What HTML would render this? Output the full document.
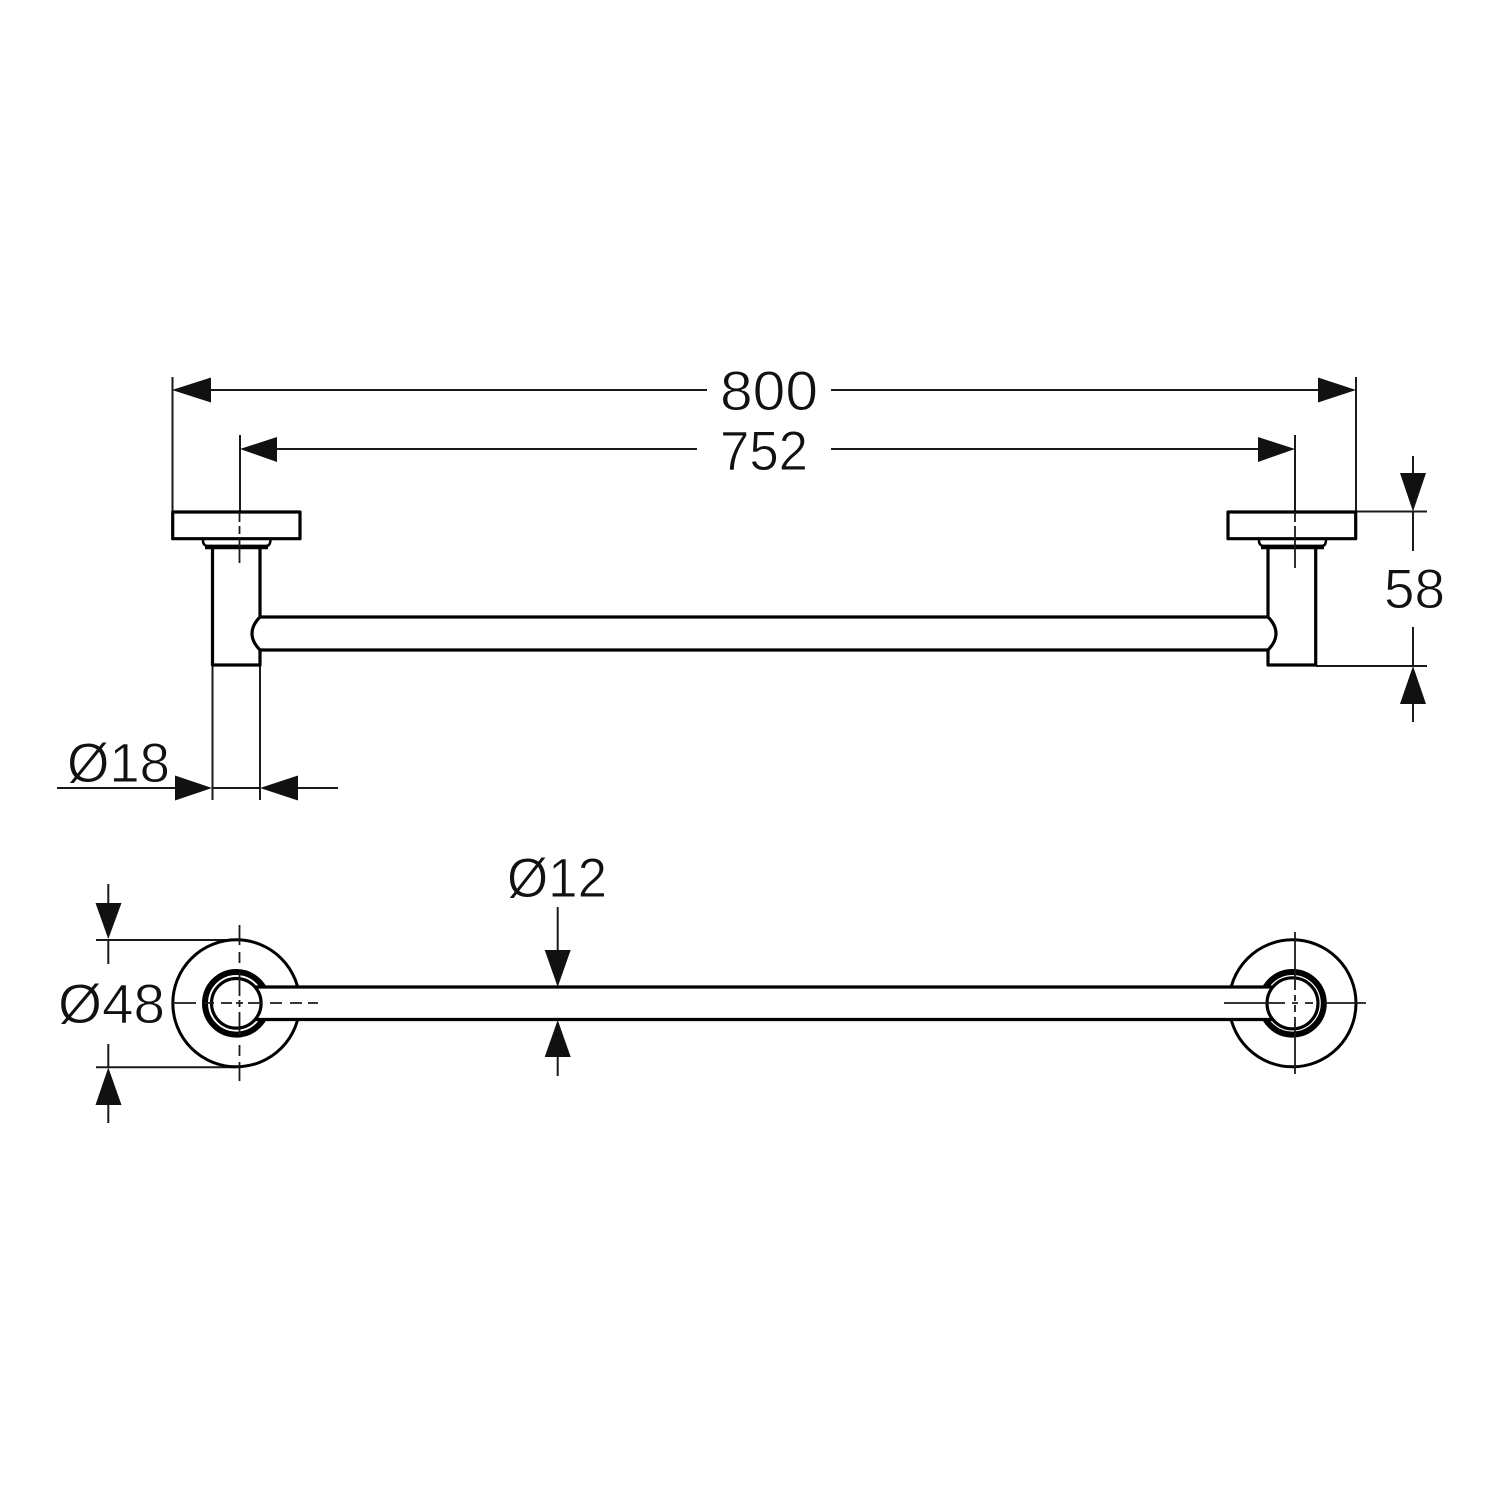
<!DOCTYPE html>
<html>
<head>
<meta charset="utf-8">
<style>
html,body{margin:0;padding:0;background:#fff}
svg{display:block}
text{font-family:"Liberation Sans",sans-serif;font-size:56px;fill:#111;stroke:#fff;stroke-width:.9px}
</style>
</head>
<body>
<svg width="1500" height="1500" viewBox="0 0 1500 1500" xmlns="http://www.w3.org/2000/svg">
<rect width="1500" height="1500" fill="#fff"/>

<!-- thin dimension lines -->
<g stroke="#1a1a1a" stroke-width="2" fill="none">
  <path d="M172.500 377V512M1356 377V512M240 435V512M1295 435V512"/>
  <path d="M211 390H707M831 390H1318"/>
  <path d="M277 449H697M831 449H1258"/>
  <path d="M1356 511.500H1427M1316 666H1427"/>
  <path d="M1413 456V473M1413 511V551M1413 627V666M1413 704V722"/>
  <path d="M212.500 665V800M260 665V800"/>
  <path d="M57 788H175M212 788H260M298 788H338"/>
  <path d="M557.700 907V950M557.700 987V1020M557.700 1057V1076"/>
  <path d="M108.300 884V903M108.300 939V964M108.300 1044V1067M108.300 1105V1123"/>
  <path d="M96 940H236M96 1067.300H236"/>
</g>

<!-- arrowheads -->
<g fill="#111">
  <path d="M172 390L211 377.500V402.500Z"/>
  <path d="M1356 390L1318 377.500V402.500Z"/>
  <path d="M240 449L277 437V462Z"/>
  <path d="M1295 449L1258 437V462Z"/>
  <path d="M1413 511.500L1400 473H1426Z"/>
  <path d="M1413 666L1400 704H1426Z"/>
  <path d="M212 788L175 775.500V800.500Z"/>
  <path d="M260 788L298 775.500V800.500Z"/>
  <path d="M557.700 987L544.700 950H570.700Z"/>
  <path d="M557.700 1020L544.700 1057H570.700Z"/>
  <path d="M108.300 939L95.500 903H121.500Z"/>
  <path d="M108.300 1067.500L95.500 1105H121.500Z"/>
</g>

<!-- side view -->
<g stroke="#000" stroke-width="3.200" fill="none" stroke-linejoin="round">
  <rect x="172.700" y="512" width="127.300" height="26.700" fill="#fff"/>
  <rect x="1228" y="512" width="127.700" height="26.700" fill="#fff"/>
  <path d="M212.500 548V665H260V650C254 644 252 639 252 633.500C252 628 254 623 260 617V548"/>
  <path d="M260 617H1268C1274 623 1276 628 1276 633.500C1276 639 1274 644 1268 650H260"/>
  <path d="M1268 548V617M1268 650V665H1315.700V548"/>
</g>
<g stroke="#000" fill="none">
  <path d="M203 539V541C203 544 205 546 208 546H266C269 546 270.500 544 270.500 539" stroke-width="2.500"/>
  <path d="M205 547H268" stroke-width="4.500"/>
  <path d="M1259 539V541C1259 544 1261 546 1264 546H1321C1325 546 1326 544 1326 539" stroke-width="2.500"/>
  <path d="M1261 547H1324" stroke-width="4.500"/>
</g>
<g stroke="#1a1a1a" stroke-width="1.800" fill="none">
  <path d="M239.500 512V522M239.500 526V534M239.500 538V563"/>
  <path d="M1295 512V522M1295 526V538M1295 538V568"/>
</g>

<!-- top view -->
<g fill="none" stroke="#000">
  <circle cx="236.300" cy="1003.300" r="63.500" stroke-width="3"/>
  <circle cx="236.300" cy="1003.300" r="31.300" stroke-width="6"/>
  <circle cx="1292.500" cy="1003.300" r="63.500" stroke-width="3"/>
  <circle cx="1292.500" cy="1003.300" r="31.300" stroke-width="6"/>
</g>
<rect x="255" y="987" width="1016" height="32.500" fill="#fff"/>
<g fill="none" stroke="#000" stroke-width="3.200">
  <path d="M255 987H1272M255 1019.500H1272"/>
  <circle cx="236.300" cy="1003.300" r="24.800"/>
  <circle cx="1292.500" cy="1003.300" r="25.500"/>
</g>

<!-- centre lines -->
<g stroke="#1a1a1a" stroke-width="1.800" fill="none">
  <path d="M239.500 925V945M239.500 952V963M239.500 972V996M239.500 1000V1007M239.500 1012V1035M239.500 1045V1056M239.500 1062V1081"/>
  <path d="M172 1003H196M204 1003H214M221 1003H232M236 1003H243M248 1003H262M270 1003H282M290 1003H302M308 1003H318"/>
  <path d="M1295 932V990M1295 995V1001M1295 1005V1012M1295 1017V1074"/>
  <path d="M1224 1003H1285M1292 1003H1298M1305 1003H1313M1325 1003H1366"/>
</g>

<!-- labels -->
<g>
  <text x="720" y="410" textLength="98" lengthAdjust="spacingAndGlyphs">800</text>
  <text x="720" y="470" textLength="88" lengthAdjust="spacingAndGlyphs">752</text>
  <text x="1384" y="608" textLength="61" lengthAdjust="spacingAndGlyphs">58</text>
  <text x="67" y="782" textLength="103" lengthAdjust="spacingAndGlyphs">Ø18</text>
  <text x="507" y="897" textLength="100" lengthAdjust="spacingAndGlyphs">Ø12</text>
  <text x="58" y="1023" textLength="107" lengthAdjust="spacingAndGlyphs">Ø48</text>
</g>
</svg>
</body>
</html>
